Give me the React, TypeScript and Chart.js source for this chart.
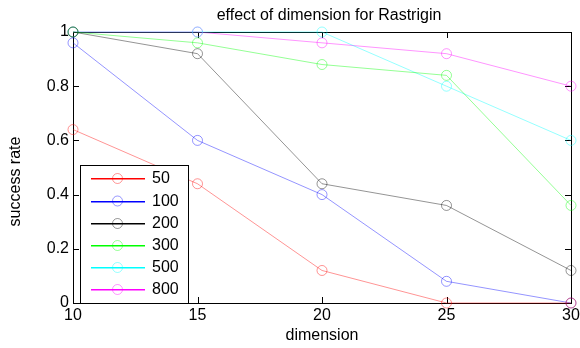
import React, { useEffect, useRef } from "react";
import { Chart, registerables } from "chart.js";

Chart.register(...registerables);

const dimensions = [10, 15, 20, 25, 30];
const seriesNames = ["50", "100", "200", "300", "500", "800"];
const s50 = [0.64, 0.44, 0.12, 0, 0];
const s100 = [0.96, 0.6, 0.4, 0.08, 0];
const s200 = [1, 0.92, 0.44, 0.36, 0.12];
const s300 = [1, 0.96, 0.88, 0.84, 0.36];
const s500 = [1, 1, 1, 0.8, 0.6];
const s800 = [1, 1, 0.96, 0.92, 0.8];
const seriesValues = [s50, s100, s200, s300, s500, s800];
const seriesRGB = ["255,0,0", "0,0,255", "0,0,0", "0,255,0", "0,255,255", "255,0,255"];
const yTicks = [0, 0.2, 0.4, 0.6, 0.8, 1];
const xTicks = [10, 15, 20, 25, 30];
const titleText = "effect of dimension for Rastrigin";
const xLabel = "dimension";
const yLabel = "success rate";

const FONT = "Arial, 'Liberation Sans', Helvetica, sans-serif";

const framePlugin = {
  id: "frame",
  beforeDatasetsDraw(chart: any) {
    const { ctx, chartArea: a, scales } = chart;
    ctx.save();
    ctx.strokeStyle = "#000";
    ctx.lineWidth = 1;
    ctx.strokeRect(Math.round(a.left) + 0.5, Math.round(a.top) + 0.5, Math.round(a.right - a.left), Math.round(a.bottom - a.top));
    const tl = 6;
    ctx.beginPath();
    for (const v of xTicks) {
      const x = Math.round(scales.x.getPixelForValue(v)) + 0.5;
      ctx.moveTo(x, a.bottom);
      ctx.lineTo(x, a.bottom - tl);
      ctx.moveTo(x, a.top);
      ctx.lineTo(x, a.top + tl);
    }
    for (const v of yTicks) {
      const y = Math.round(scales.y.getPixelForValue(v)) + 0.5;
      ctx.moveTo(a.left, y);
      ctx.lineTo(a.left + tl, y);
      ctx.moveTo(a.right, y);
      ctx.lineTo(a.right - tl, y);
    }
    ctx.stroke();
    ctx.restore();
  },
  afterDraw(chart: any) {
    const { ctx, chartArea: a } = chart;
    ctx.save();
    ctx.fillStyle = "#000";
    ctx.font = `16px ${FONT}`;
    ctx.textAlign = "center";
    ctx.textBaseline = "alphabetic";
    ctx.fillText(titleText, (a.left + a.right) / 2 + 7, 20);
    ctx.fillText(xLabel, (a.left + a.right) / 2, 340);
    ctx.save();
    ctx.translate(20, (a.top + a.bottom) / 2 + 14);
    ctx.rotate(-Math.PI / 2);
    ctx.fillText(yLabel, 0, 0);
    ctx.restore();

    // legend
    const bx = 80.5, by = 165.5, bw = 108, bh = a.bottom - 165;
    ctx.fillStyle = "#fff";
    ctx.fillRect(bx, by, bw, bh);
    ctx.strokeStyle = "#000";
    ctx.lineWidth = 1;
    ctx.strokeRect(bx, by, bw, bh);
    const rowY = [178, 200.5, 223, 245, 267, 289];
    seriesNames.forEach((name, i) => {
      const y = rowY[i];
      ctx.fillStyle = `rgb(${seriesRGB[i]})`;
      ctx.fillRect(91, Math.round(y), 54, 1.5);
      ctx.strokeStyle = `rgba(${seriesRGB[i]},0.4)`;
      ctx.lineWidth = 1;
      ctx.beginPath();
      ctx.arc(117.5, y + 0.5, 5, 0, Math.PI * 2);
      ctx.stroke();
      ctx.fillStyle = "#000";
      ctx.textAlign = "left";
      ctx.textBaseline = "middle";
      ctx.font = `16px ${FONT}`;
      ctx.fillText(name, 152, y + 1);
    });
    ctx.restore();
  },
};

export default function App() {
  const ref = useRef<HTMLCanvasElement>(null);
  useEffect(() => {
    document.body.style.margin = "0";
    const datasets = seriesNames.map((name, i) => ({
      label: name,
      data: dimensions.map((d, j) => ({ x: d, y: seriesValues[i][j] })),
      borderColor: `rgba(${seriesRGB[i]},0.42)`,
      backgroundColor: "rgba(0,0,0,0)",
      pointBorderColor: `rgba(${seriesRGB[i]},0.42)`,
      pointBackgroundColor: "rgba(0,0,0,0)",
      pointRadius: 5,
      pointBorderWidth: 1,
      borderWidth: 1,
      tension: 0,
      clip: false as any,
    }));
    const chart = new Chart(ref.current!, {
      type: "line",
      data: { datasets },
      plugins: [framePlugin],
      options: {
        animation: false,
        responsive: false,
        layout: { padding: { left: 0, top: 32, right: 9, bottom: 0 } },
        plugins: { legend: { display: false }, title: { display: false }, tooltip: { enabled: false } },
        scales: {
          x: {
            type: "linear",
            min: 10,
            max: 30,
            grid: { display: false, drawTicks: false },
            border: { display: false },
            afterBuildTicks: (s: any) => { s.ticks = xTicks.map((v) => ({ value: v })); },
            ticks: { color: "#000", font: { size: 16, family: FONT }, padding: 3, maxRotation: 0 },
            afterFit: (s: any) => { s.height = 45; s.paddingLeft = 0; s.paddingRight = 0; },
          },
          y: {
            type: "linear",
            min: 0,
            max: 1,
            grid: { display: false, drawTicks: false },
            border: { display: false },
            afterBuildTicks: (s: any) => { s.ticks = yTicks.map((v) => ({ value: v })); },
            ticks: { color: "#000", font: { size: 16, family: FONT }, padding: 4, callback: (v: any) => String(v) },
            afterFit: (s: any) => { s.width = 73; s.paddingTop = 0; s.paddingBottom = 0; },
          },
        },
      },
    });
    return () => chart.destroy();
  }, []);
  return (
    <div style={{ position: "absolute", left: 0, top: 0, width: 580, height: 348 }}>
      <canvas ref={ref} width={580} height={348} style={{ width: 580, height: 348 }} />
    </div>
  );
}
